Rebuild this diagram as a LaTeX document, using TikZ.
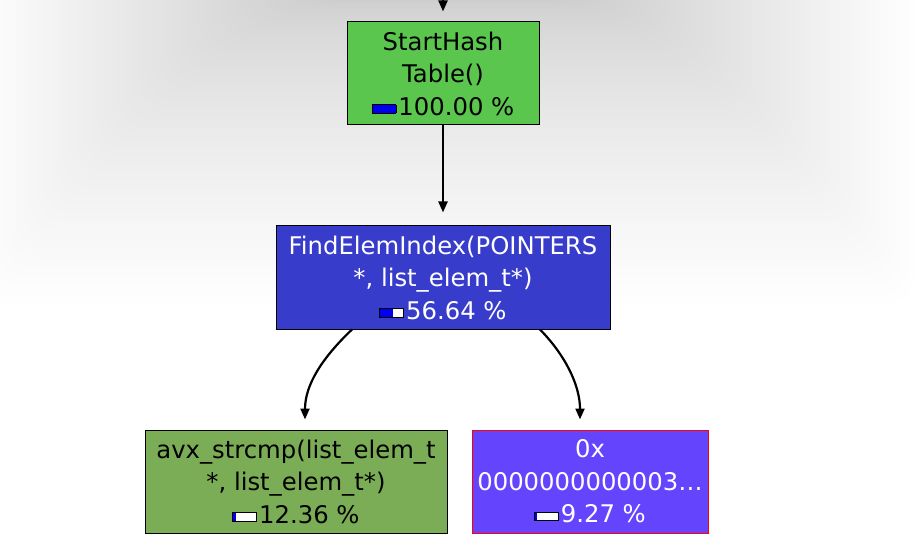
\documentclass[tikz,border=0pt]{standalone}
\usepackage{fontspec}
\setmainfont{DejaVu Sans}
\usetikzlibrary{arrows.meta}
\definecolor{ngreen}{HTML}{5AC64E}
\definecolor{nblue}{HTML}{383CCB}
\definecolor{nolive}{HTML}{7BAD56}
\definecolor{nviolet}{HTML}{6445FD}
\definecolor{barblue}{HTML}{0000F0}
\newcommand{\pbar}[1]{\raisebox{2.5pt}{\setlength\fboxsep{0pt}\setlength\fboxrule{0.9pt}\fcolorbox{black}{white}{\textcolor{barblue}{\rule{#1pt}{7.5pt}}\hspace{\dimexpr 23pt-#1pt\relax}}}\hspace{2pt}}
\begin{document}
\begin{tikzpicture}[x=1pt,y=-1pt,
  fbox/.style={draw=black,line width=1pt,inner sep=0pt,minimum width=#1,align=center,
     font=\fontsize{24.3}{32.5}\selectfont,minimum height=103pt},
  arr/.style={line width=2.2pt,-{Triangle[length=11pt,width=9pt]}}]
\useasboundingbox (0,0) rectangle (920,545);
\fill[white] (0,0) rectangle (920,545);
% blurred shadow at top
\foreach \k in {1,...,50}{
  \pgfmathsetmacro\t{(\k/50)^1.6}
  \pgfmathsetmacro\h{130+340*(\k/50)}
  \fill[black,opacity=0.005,rounded corners=30pt] ({445-\h},-60) rectangle ({445+\h},{305*\t});
}
\node[fbox=192pt,fill=ngreen,text=black] (n1) at (443,73.5) {StartHash\\Table()\\\pbar{23}100.00 \%};
\node[fbox=334pt,fill=nblue,text=white] (n2) at (443,277.5) {FindElemIndex(POINTERS\\*, list\_elem\_t*)\\\pbar{13}56.64 \%};
\node[fbox=302pt,fill=nolive,text=black] (n3) at (296,481.5) {avx\_strcmp(list\_elem\_t\\*, list\_elem\_t*)\\\pbar{2.8}12.36 \%};
\node[fbox=236pt,fill=nviolet,text=white,draw=red] (n4) at (590,481.5) {0x\\0000000000003\ldots\\\pbar{2.1}9.27 \%};
\coordinate (top) at (443,0);
\draw[arr] (top) -- ([yshift=10pt]n1.north);
\draw[arr] (n1.south) -- ([yshift=13pt]n2.north);
\draw[arr] ([xshift=-91pt]n2.south) .. controls (322,358) and (305,385) .. ([xshift=9pt,yshift=10pt]n3.north);
\draw[arr] ([xshift=97pt]n2.south) .. controls (565,355) and (580,385) .. ([xshift=-10pt,yshift=10pt]n4.north);
\end{tikzpicture}
\end{document}
